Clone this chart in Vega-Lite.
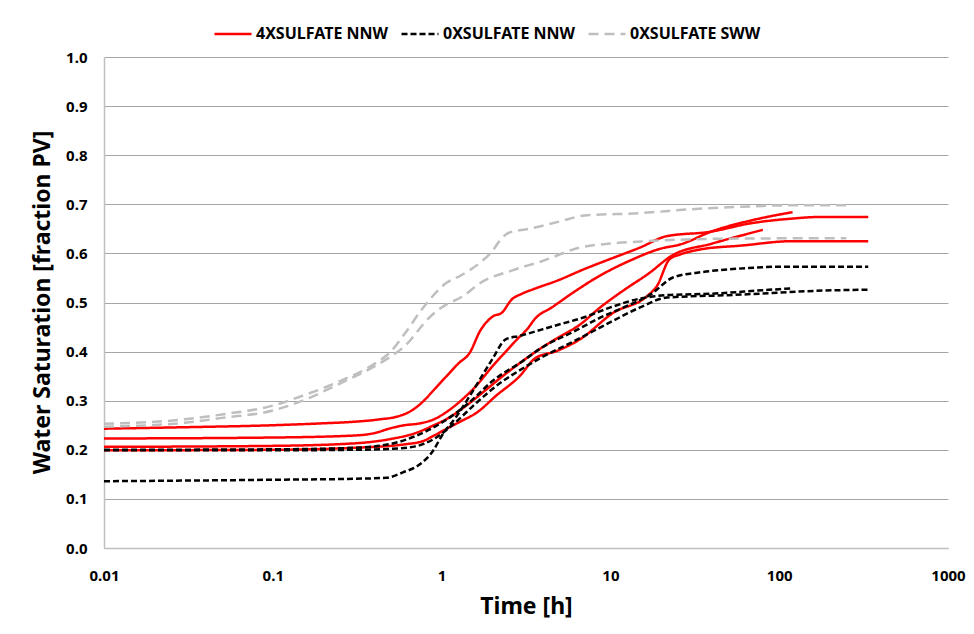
{
  "$schema": "https://vega.github.io/schema/vega-lite/v6.json",
  "autosize": "none",
  "width": 844,
  "height": 491,
  "padding": {"left": 104, "top": 57, "right": 26, "bottom": 86},
  "background": "white",
  "config": {
    "font": "Noto Sans",
    "view": {"stroke": null},
    "axis": {"labelFont": "Noto Sans", "titleFont": "Noto Sans"},
    "legend": {"labelFont": "Noto Sans"}
  },
  "data": {"values": [
    {"s":"RA","g":"4XSULFATE NNW","t":0.01,"w":0.243},{"s":"RA","g":"4XSULFATE NNW","t":0.03,"w":0.246},{"s":"RA","g":"4XSULFATE NNW","t":0.1,"w":0.25},{"s":"RA","g":"4XSULFATE NNW","t":0.2,"w":0.254},{"s":"RA","g":"4XSULFATE NNW","t":0.3,"w":0.257},{"s":"RA","g":"4XSULFATE NNW","t":0.43,"w":0.262},{"s":"RA","g":"4XSULFATE NNW","t":0.55,"w":0.268},{"s":"RA","g":"4XSULFATE NNW","t":0.65,"w":0.278},{"s":"RA","g":"4XSULFATE NNW","t":0.78,"w":0.299},{"s":"RA","g":"4XSULFATE NNW","t":0.9,"w":0.322},{"s":"RA","g":"4XSULFATE NNW","t":1.07,"w":0.35},{"s":"RA","g":"4XSULFATE NNW","t":1.25,"w":0.375},{"s":"RA","g":"4XSULFATE NNW","t":1.47,"w":0.398},{"s":"RA","g":"4XSULFATE NNW","t":1.69,"w":0.442},{"s":"RA","g":"4XSULFATE NNW","t":2.02,"w":0.472},{"s":"RA","g":"4XSULFATE NNW","t":2.27,"w":0.479},{"s":"RA","g":"4XSULFATE NNW","t":2.6,"w":0.506},{"s":"RA","g":"4XSULFATE NNW","t":3.0,"w":0.518},{"s":"RA","g":"4XSULFATE NNW","t":3.49,"w":0.527},{"s":"RA","g":"4XSULFATE NNW","t":4.8,"w":0.544},{"s":"RA","g":"4XSULFATE NNW","t":7,"w":0.568},{"s":"RA","g":"4XSULFATE NNW","t":10.4,"w":0.591},{"s":"RA","g":"4XSULFATE NNW","t":15,"w":0.612},{"s":"RA","g":"4XSULFATE NNW","t":21.5,"w":0.635},{"s":"RA","g":"4XSULFATE NNW","t":38.9,"w":0.644},{"s":"RA","g":"4XSULFATE NNW","t":67,"w":0.661},{"s":"RA","g":"4XSULFATE NNW","t":120,"w":0.671},{"s":"RA","g":"4XSULFATE NNW","t":167,"w":0.674},{"s":"RA","g":"4XSULFATE NNW","t":337,"w":0.674},
    {"s":"RB","g":"4XSULFATE NNW","t":0.01,"w":0.223},{"s":"RB","g":"4XSULFATE NNW","t":0.1,"w":0.225},{"s":"RB","g":"4XSULFATE NNW","t":0.3,"w":0.229},{"s":"RB","g":"4XSULFATE NNW","t":0.4,"w":0.234},{"s":"RB","g":"4XSULFATE NNW","t":0.5,"w":0.244},{"s":"RB","g":"4XSULFATE NNW","t":0.6,"w":0.25},{"s":"RB","g":"4XSULFATE NNW","t":0.75,"w":0.254},{"s":"RB","g":"4XSULFATE NNW","t":0.9,"w":0.262},{"s":"RB","g":"4XSULFATE NNW","t":1.1,"w":0.28},{"s":"RB","g":"4XSULFATE NNW","t":1.3,"w":0.3},{"s":"RB","g":"4XSULFATE NNW","t":1.6,"w":0.33},{"s":"RB","g":"4XSULFATE NNW","t":2.0,"w":0.37},{"s":"RB","g":"4XSULFATE NNW","t":2.4,"w":0.4},{"s":"RB","g":"4XSULFATE NNW","t":2.8,"w":0.425},{"s":"RB","g":"4XSULFATE NNW","t":3.2,"w":0.445},{"s":"RB","g":"4XSULFATE NNW","t":3.6,"w":0.468},{"s":"RB","g":"4XSULFATE NNW","t":4.5,"w":0.49},{"s":"RB","g":"4XSULFATE NNW","t":6,"w":0.52},{"s":"RB","g":"4XSULFATE NNW","t":8.7,"w":0.555},{"s":"RB","g":"4XSULFATE NNW","t":13,"w":0.585},{"s":"RB","g":"4XSULFATE NNW","t":20,"w":0.61},{"s":"RB","g":"4XSULFATE NNW","t":25.8,"w":0.618},{"s":"RB","g":"4XSULFATE NNW","t":40,"w":0.645},{"s":"RB","g":"4XSULFATE NNW","t":70,"w":0.668},{"s":"RB","g":"4XSULFATE NNW","t":120,"w":0.684},
    {"s":"RC","g":"4XSULFATE NNW","t":0.01,"w":0.206},{"s":"RC","g":"4XSULFATE NNW","t":0.1,"w":0.208},{"s":"RC","g":"4XSULFATE NNW","t":0.3,"w":0.213},{"s":"RC","g":"4XSULFATE NNW","t":0.5,"w":0.222},{"s":"RC","g":"4XSULFATE NNW","t":0.7,"w":0.234},{"s":"RC","g":"4XSULFATE NNW","t":0.9,"w":0.25},{"s":"RC","g":"4XSULFATE NNW","t":1.1,"w":0.265},{"s":"RC","g":"4XSULFATE NNW","t":1.4,"w":0.29},{"s":"RC","g":"4XSULFATE NNW","t":1.8,"w":0.32},{"s":"RC","g":"4XSULFATE NNW","t":2.3,"w":0.35},{"s":"RC","g":"4XSULFATE NNW","t":3,"w":0.38},{"s":"RC","g":"4XSULFATE NNW","t":4,"w":0.41},{"s":"RC","g":"4XSULFATE NNW","t":5,"w":0.43},{"s":"RC","g":"4XSULFATE NNW","t":6.6,"w":0.455},{"s":"RC","g":"4XSULFATE NNW","t":8.7,"w":0.49},{"s":"RC","g":"4XSULFATE NNW","t":12,"w":0.525},{"s":"RC","g":"4XSULFATE NNW","t":17,"w":0.56},{"s":"RC","g":"4XSULFATE NNW","t":23,"w":0.595},{"s":"RC","g":"4XSULFATE NNW","t":40,"w":0.62},{"s":"RC","g":"4XSULFATE NNW","t":80,"w":0.648},
    {"s":"RD","g":"4XSULFATE NNW","t":0.01,"w":0.199},{"s":"RD","g":"4XSULFATE NNW","t":0.1,"w":0.2},{"s":"RD","g":"4XSULFATE NNW","t":0.3,"w":0.204},{"s":"RD","g":"4XSULFATE NNW","t":0.6,"w":0.211},{"s":"RD","g":"4XSULFATE NNW","t":0.78,"w":0.218},{"s":"RD","g":"4XSULFATE NNW","t":0.89,"w":0.228},{"s":"RD","g":"4XSULFATE NNW","t":1.1,"w":0.245},{"s":"RD","g":"4XSULFATE NNW","t":1.3,"w":0.258},{"s":"RD","g":"4XSULFATE NNW","t":1.62,"w":0.276},{"s":"RD","g":"4XSULFATE NNW","t":2.1,"w":0.31},{"s":"RD","g":"4XSULFATE NNW","t":2.9,"w":0.35},{"s":"RD","g":"4XSULFATE NNW","t":3.6,"w":0.387},{"s":"RD","g":"4XSULFATE NNW","t":4.8,"w":0.401},{"s":"RD","g":"4XSULFATE NNW","t":6.6,"w":0.425},{"s":"RD","g":"4XSULFATE NNW","t":10.4,"w":0.479},{"s":"RD","g":"4XSULFATE NNW","t":16.5,"w":0.513},{"s":"RD","g":"4XSULFATE NNW","t":18.9,"w":0.534},{"s":"RD","g":"4XSULFATE NNW","t":22.4,"w":0.588},{"s":"RD","g":"4XSULFATE NNW","t":26,"w":0.598},{"s":"RD","g":"4XSULFATE NNW","t":34,"w":0.608},{"s":"RD","g":"4XSULFATE NNW","t":60,"w":0.616},{"s":"RD","g":"4XSULFATE NNW","t":121,"w":0.625},{"s":"RD","g":"4XSULFATE NNW","t":337,"w":0.625},
    {"s":"B1","g":"0XSULFATE NNW","t":0.01,"w":0.136},{"s":"B1","g":"0XSULFATE NNW","t":0.1,"w":0.139},{"s":"B1","g":"0XSULFATE NNW","t":0.3,"w":0.141},{"s":"B1","g":"0XSULFATE NNW","t":0.47,"w":0.143},{"s":"B1","g":"0XSULFATE NNW","t":0.59,"w":0.154},{"s":"B1","g":"0XSULFATE NNW","t":0.74,"w":0.17},{"s":"B1","g":"0XSULFATE NNW","t":0.89,"w":0.198},{"s":"B1","g":"0XSULFATE NNW","t":1.0,"w":0.228},{"s":"B1","g":"0XSULFATE NNW","t":1.23,"w":0.269},{"s":"B1","g":"0XSULFATE NNW","t":1.47,"w":0.31},{"s":"B1","g":"0XSULFATE NNW","t":1.69,"w":0.344},{"s":"B1","g":"0XSULFATE NNW","t":2.0,"w":0.385},{"s":"B1","g":"0XSULFATE NNW","t":2.4,"w":0.425},{"s":"B1","g":"0XSULFATE NNW","t":2.9,"w":0.432},{"s":"B1","g":"0XSULFATE NNW","t":4.6,"w":0.452},{"s":"B1","g":"0XSULFATE NNW","t":7,"w":0.47},{"s":"B1","g":"0XSULFATE NNW","t":10,"w":0.49},{"s":"B1","g":"0XSULFATE NNW","t":15,"w":0.508},{"s":"B1","g":"0XSULFATE NNW","t":21.6,"w":0.515},{"s":"B1","g":"0XSULFATE NNW","t":40,"w":0.518},{"s":"B1","g":"0XSULFATE NNW","t":80,"w":0.525},{"s":"B1","g":"0XSULFATE NNW","t":121,"w":0.529},
    {"s":"B2","g":"0XSULFATE NNW","t":0.01,"w":0.2},{"s":"B2","g":"0XSULFATE NNW","t":0.1,"w":0.201},{"s":"B2","g":"0XSULFATE NNW","t":0.3,"w":0.204},{"s":"B2","g":"0XSULFATE NNW","t":0.5,"w":0.212},{"s":"B2","g":"0XSULFATE NNW","t":0.7,"w":0.228},{"s":"B2","g":"0XSULFATE NNW","t":1,"w":0.255},{"s":"B2","g":"0XSULFATE NNW","t":1.5,"w":0.3},{"s":"B2","g":"0XSULFATE NNW","t":2,"w":0.34},{"s":"B2","g":"0XSULFATE NNW","t":3,"w":0.38},{"s":"B2","g":"0XSULFATE NNW","t":4,"w":0.41},{"s":"B2","g":"0XSULFATE NNW","t":6,"w":0.44},{"s":"B2","g":"0XSULFATE NNW","t":8.7,"w":0.469},{"s":"B2","g":"0XSULFATE NNW","t":12,"w":0.49},{"s":"B2","g":"0XSULFATE NNW","t":17.4,"w":0.517},{"s":"B2","g":"0XSULFATE NNW","t":23.5,"w":0.551},{"s":"B2","g":"0XSULFATE NNW","t":35,"w":0.562},{"s":"B2","g":"0XSULFATE NNW","t":53,"w":0.568},{"s":"B2","g":"0XSULFATE NNW","t":110,"w":0.573},{"s":"B2","g":"0XSULFATE NNW","t":337,"w":0.573},
    {"s":"B3","g":"0XSULFATE NNW","t":0.01,"w":0.199},{"s":"B3","g":"0XSULFATE NNW","t":0.1,"w":0.199},{"s":"B3","g":"0XSULFATE NNW","t":0.3,"w":0.2},{"s":"B3","g":"0XSULFATE NNW","t":0.5,"w":0.202},{"s":"B3","g":"0XSULFATE NNW","t":0.7,"w":0.207},{"s":"B3","g":"0XSULFATE NNW","t":0.9,"w":0.222},{"s":"B3","g":"0XSULFATE NNW","t":1.2,"w":0.255},{"s":"B3","g":"0XSULFATE NNW","t":1.6,"w":0.295},{"s":"B3","g":"0XSULFATE NNW","t":2.2,"w":0.335},{"s":"B3","g":"0XSULFATE NNW","t":3,"w":0.365},{"s":"B3","g":"0XSULFATE NNW","t":4,"w":0.39},{"s":"B3","g":"0XSULFATE NNW","t":6,"w":0.42},{"s":"B3","g":"0XSULFATE NNW","t":10,"w":0.46},{"s":"B3","g":"0XSULFATE NNW","t":15,"w":0.49},{"s":"B3","g":"0XSULFATE NNW","t":21.6,"w":0.51},{"s":"B3","g":"0XSULFATE NNW","t":50,"w":0.515},{"s":"B3","g":"0XSULFATE NNW","t":100,"w":0.52},{"s":"B3","g":"0XSULFATE NNW","t":145,"w":0.523},{"s":"B3","g":"0XSULFATE NNW","t":337,"w":0.526},
    {"s":"G1","g":"0XSULFATE SWW","t":0.01,"w":0.253},{"s":"G1","g":"0XSULFATE SWW","t":0.03,"w":0.262},{"s":"G1","g":"0XSULFATE SWW","t":0.05,"w":0.272},{"s":"G1","g":"0XSULFATE SWW","t":0.1,"w":0.29},{"s":"G1","g":"0XSULFATE SWW","t":0.15,"w":0.31},{"s":"G1","g":"0XSULFATE SWW","t":0.25,"w":0.34},{"s":"G1","g":"0XSULFATE SWW","t":0.4,"w":0.375},{"s":"G1","g":"0XSULFATE SWW","t":0.5,"w":0.4},{"s":"G1","g":"0XSULFATE SWW","t":0.6,"w":0.435},{"s":"G1","g":"0XSULFATE SWW","t":0.8,"w":0.495},{"s":"G1","g":"0XSULFATE SWW","t":1.07,"w":0.54},{"s":"G1","g":"0XSULFATE SWW","t":1.3,"w":0.555},{"s":"G1","g":"0XSULFATE SWW","t":1.7,"w":0.582},{"s":"G1","g":"0XSULFATE SWW","t":2.0,"w":0.605},{"s":"G1","g":"0XSULFATE SWW","t":2.2,"w":0.625},{"s":"G1","g":"0XSULFATE SWW","t":2.5,"w":0.642},{"s":"G1","g":"0XSULFATE SWW","t":3.3,"w":0.65},{"s":"G1","g":"0XSULFATE SWW","t":5,"w":0.665},{"s":"G1","g":"0XSULFATE SWW","t":7,"w":0.677},{"s":"G1","g":"0XSULFATE SWW","t":15,"w":0.682},{"s":"G1","g":"0XSULFATE SWW","t":30,"w":0.69},{"s":"G1","g":"0XSULFATE SWW","t":60,"w":0.695},{"s":"G1","g":"0XSULFATE SWW","t":120,"w":0.698},{"s":"G1","g":"0XSULFATE SWW","t":250,"w":0.698},
    {"s":"G2","g":"0XSULFATE SWW","t":0.01,"w":0.247},{"s":"G2","g":"0XSULFATE SWW","t":0.03,"w":0.255},{"s":"G2","g":"0XSULFATE SWW","t":0.05,"w":0.265},{"s":"G2","g":"0XSULFATE SWW","t":0.1,"w":0.28},{"s":"G2","g":"0XSULFATE SWW","t":0.15,"w":0.3},{"s":"G2","g":"0XSULFATE SWW","t":0.25,"w":0.335},{"s":"G2","g":"0XSULFATE SWW","t":0.4,"w":0.37},{"s":"G2","g":"0XSULFATE SWW","t":0.5,"w":0.39},{"s":"G2","g":"0XSULFATE SWW","t":0.6,"w":0.41},{"s":"G2","g":"0XSULFATE SWW","t":0.85,"w":0.47},{"s":"G2","g":"0XSULFATE SWW","t":1.0,"w":0.49},{"s":"G2","g":"0XSULFATE SWW","t":1.34,"w":0.513},{"s":"G2","g":"0XSULFATE SWW","t":1.7,"w":0.54},{"s":"G2","g":"0XSULFATE SWW","t":2.6,"w":0.565},{"s":"G2","g":"0XSULFATE SWW","t":4,"w":0.585},{"s":"G2","g":"0XSULFATE SWW","t":6.6,"w":0.612},{"s":"G2","g":"0XSULFATE SWW","t":10,"w":0.62},{"s":"G2","g":"0XSULFATE SWW","t":16.5,"w":0.625},{"s":"G2","g":"0XSULFATE SWW","t":50,"w":0.63},{"s":"G2","g":"0XSULFATE SWW","t":250,"w":0.631}
  ]},
  "mark": {"type": "line", "interpolate": "monotone", "strokeWidth": 2.5},
  "encoding": {
    "x": {
      "field": "t", "type": "quantitative",
      "scale": {"type": "log", "domain": [0.01, 1000], "nice": false},
      "axis": {
        "values": [0.01, 0.1, 1, 10, 100, 1000], "format": "~g", "grid": false,
        "ticks": false, "tickSize": 0, "labelPadding": 20, "labelFlush": false,
        "labelFontSize": 15, "labelFontWeight": "bold", "labelColor": "black",
        "domainColor": "#BFBFBF", "domainWidth": 1.5,
        "title": "Time [h]", "titleFontSize": 23, "titleFontWeight": "bold", "titleColor": "black",
        "titleBaseline": "middle", "titleY": 58
      }
    },
    "y": {
      "field": "w", "type": "quantitative",
      "scale": {"domain": [0, 1], "nice": false},
      "axis": {
        "values": [0, 0.1, 0.2, 0.3, 0.4, 0.5, 0.6, 0.7, 0.8, 0.9, 1.0], "format": ".1f",
        "grid": true, "gridColor": "#A6A6A6", "gridWidth": 1.2,
        "ticks": false, "tickSize": 0, "labelPadding": 17,
        "labelFontSize": 15, "labelFontWeight": "bold", "labelColor": "black",
        "domainColor": "#BFBFBF", "domainWidth": 1.5,
        "title": "Water Saturation [fraction PV]", "titleFontSize": 23, "titleFontWeight": "bold", "titleColor": "black",
        "titleBaseline": "middle", "titleX": -62, "titleY": 245, "titleAngle": -90
      }
    },
    "detail": {"field": "s"},
    "color": {
      "field": "g", "type": "nominal",
      "scale": {"domain": ["4XSULFATE NNW", "0XSULFATE NNW", "0XSULFATE SWW"], "range": ["#FF0000", "#000000", "#BFBFBF"]},
      "legend": {
        "title": null, "orient": "none", "direction": "horizontal",
        "legendX": 94, "legendY": -58,
        "symbolType": "stroke", "symbolSize": 1369, "symbolStrokeWidth": 2.5,
        "labelFontSize": 16, "labelFontWeight": "bold", "labelColor": "black", "labelOffset": 3,
        "columnPadding": 8, "padding": 15, "fillColor": "white"
      }
    },
    "strokeDash": {
      "field": "g", "type": "nominal",
      "scale": {"domain": ["4XSULFATE NNW", "0XSULFATE NNW", "0XSULFATE SWW"], "range": [[1, 0], [6, 3], [10, 6]]},
      "legend": null
    }
  }
}
